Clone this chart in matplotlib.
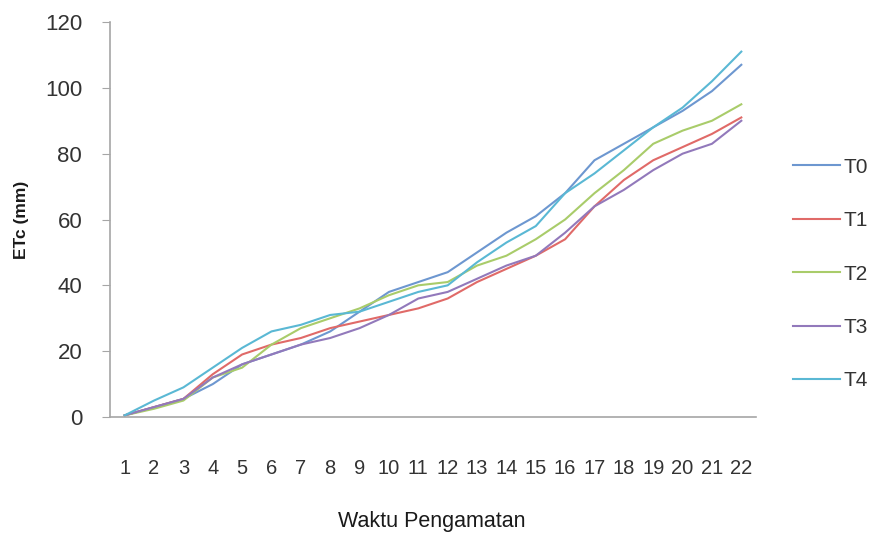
import matplotlib
matplotlib.use("Agg")
import matplotlib.pyplot as plt

days = list(range(1, 23))
series_names = ["T0", "T1", "T2", "T3", "T4"]
T0 = [0.5, 3, 5.5, 10, 16, 19, 22, 26, 32, 38, 41, 44, 50, 56, 61, 68, 78, 83, 88, 93, 99, 107]
T1 = [0.5, 3, 5.5, 13, 19, 22, 24, 27, 29, 31, 33, 36, 41, 45, 49, 54, 64, 72, 78, 82, 86, 91]
T2 = [0.5, 2.5, 5, 12, 15, 22, 27, 30, 33, 37, 40, 41, 46, 49, 54, 60, 68, 75, 83, 87, 90, 95]
T3 = [0.5, 3, 5.5, 12, 16, 19, 22, 24, 27, 31, 36, 38, 42, 46, 49, 56, 64, 69, 75, 80, 83, 90]
T4 = [0.5, 5, 9, 15, 21, 26, 28, 31, 32, 35, 38, 40, 47, 53, 58, 68, 74, 81, 88, 94, 102, 111]
yticks = [0, 20, 40, 60, 80, 100, 120]

colors = ["#6d97d0", "#e06a68", "#a9cc6a", "#9279bb", "#5ab8d4"]

plt.rcParams['font.family'] = ["Liberation Sans", "DejaVu Sans"]

W, H = 871, 536
fig = plt.figure(figsize=(W/100, H/100), dpi=100)
ax = fig.add_axes([110/W, 1-417/H, (756-110)/W, (417-22)/H])

for name, vals, c in zip(series_names, [T0, T1, T2, T3, T4], colors):
    ax.plot(days, vals, color=c, lw=1.5, label=name)

ax.set_xlim(0.5, 22.5)
ax.set_ylim(0, 120)
ax.set_yticks(yticks)
ax.set_xticks(days)
ax.set_xticklabels([str(d) for d in days])

for s in ["top", "right"]:
    ax.spines[s].set_visible(False)
for s in ["left", "bottom"]:
    ax.spines[s].set_color("#a6a6a6")
    ax.spines[s].set_linewidth(1.2)

ax.tick_params(axis="y", direction="out", length=6, color="#a6a6a6", labelsize=16, pad=14, labelcolor="#333333")
ax.tick_params(axis="x", length=0, labelsize=14.5, pad=30, labelcolor="#333333")

fig.text(22/W, 1-220/H, "ETc (mm)", rotation=90, ha="center", va="center",
         fontsize=12.5, fontweight="bold", color="#1a1a1a")
fig.text(432/W, 1-522/H, "Waktu Pengamatan", ha="center", va="center",
         fontsize=15.5, color="#1a1a1a")

leg = fig.legend(*ax.get_legend_handles_labels(), loc="center left",
                 bbox_to_anchor=(793/W, 1-274/H), frameon=False,
                 fontsize=15, handlelength=2.25, handletextpad=0.15,
                 labelspacing=1.65, borderpad=0, borderaxespad=0)
for t in leg.get_texts():
    t.set_color("#333333")

fig.savefig("out.png", dpi=100)
